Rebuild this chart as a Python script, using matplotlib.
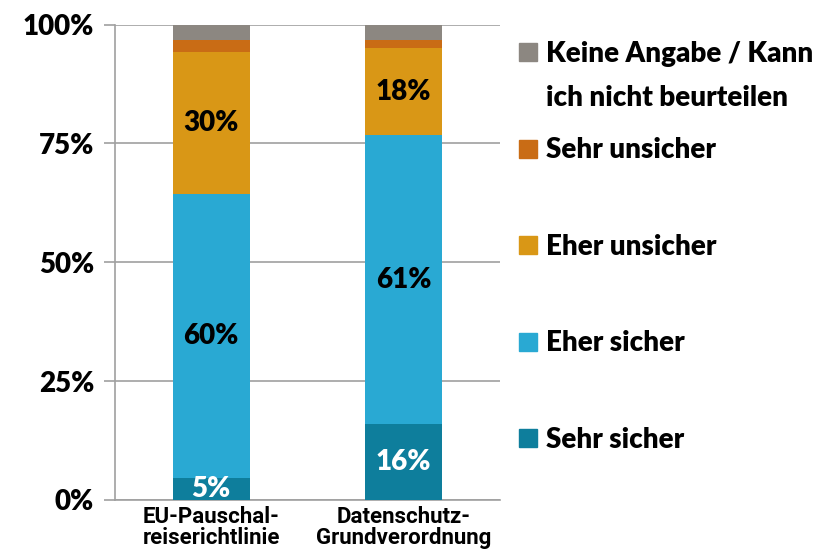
import numpy as np
from matplotlib import pyplot as plt
from matplotlib import transforms

categories = ['EU-Pauschal-\nreiserichtlinie', 'Datenschutz-\nGrundverordnung']
series = ['Sehr sicher', 'Eher sicher', 'Eher unsicher', 'Sehr unsicher',
          'Keine Angabe / Kann\nich nicht beurteilen']
sehrSicher = [4.6, 16.0]
eherSicher = [59.7, 60.7]
eherUnsicher = [29.9, 18.3]
sehrUnsicher = [2.5, 1.7]
keineAngabe = [3.3, 3.3]
values = [sehrSicher, eherSicher, eherUnsicher, sehrUnsicher, keineAngabe]
labelled = [True, True, True, False, False]

colors = ['#0E7E9C', '#29A9D3', '#D99716', '#C96C15', '#8C8781']
labelColors = ['white', 'black', 'black', 'black', 'black']
yTicks = [0, 25, 50, 75, 100]

calibri = 'Lato'
arial = 'Roboto'
bigSize = 20

fig = plt.figure(figsize=(8.27, 5.55), dpi=100)
ax = fig.add_axes([115 / 827, 1 - 500 / 555, 385 / 827, 475.5 / 555])

x = np.arange(len(categories))
bottom = np.zeros(len(categories))
for vals, color, lc, lab in zip(values, colors, labelColors, labelled):
    vals = np.array(vals)
    ax.bar(x, vals, width=0.4, bottom=bottom, color=color, zorder=3)
    if lab:
        for xi, b, v in zip(x, bottom, vals):
            ax.text(xi, b + v / 2, '%d%%' % round(v), ha='center', va='center',
                    color=lc, fontsize=bigSize, fontweight='heavy', family=calibri,
                    zorder=4, clip_on=True)
    bottom += vals

ax.set_xlim(-0.5, 1.5)
ax.set_ylim(0, 100)
ax.set_yticks(yTicks)
ax.set_yticklabels(['%d%%' % t for t in yTicks], fontsize=bigSize, fontweight='heavy',
                   family=calibri)
ax.set_xticks(x)
ax.set_xticklabels(categories, fontsize=16, family=arial, fontweight='bold',
                   linespacing=0.95)
ax.tick_params(axis='x', length=0, pad=4)
ax.tick_params(axis='y', length=8, width=1.2, color='#A0A0A0', pad=7)
ax.yaxis.grid(True, color='#A0A0A0', linewidth=1.2, zorder=0)
for side in ['top', 'right']:
    ax.spines[side].set_visible(False)
for side in ['left', 'bottom']:
    ax.spines[side].set_color('#A0A0A0')
    ax.spines[side].set_linewidth(1.2)

# legend drawn by hand: marker beside first line of each entry
blend = transforms.blended_transform_factory(fig.transFigure, ax.transData)
legendY = [13.0, 33.3, 53.6, 73.9, 94.2]
for name, color, ly in zip(series, colors, legendY):
    ax.plot([528 / 827], [ly], marker='s', markersize=13, color=color,
            transform=blend, clip_on=False)
    ax.text(546 / 827, ly + 2.4, name, transform=blend, ha='left', va='top',
            fontsize=20, fontweight='heavy', family=calibri, linespacing=1.85)

fig.savefig('out.png', dpi=100)
